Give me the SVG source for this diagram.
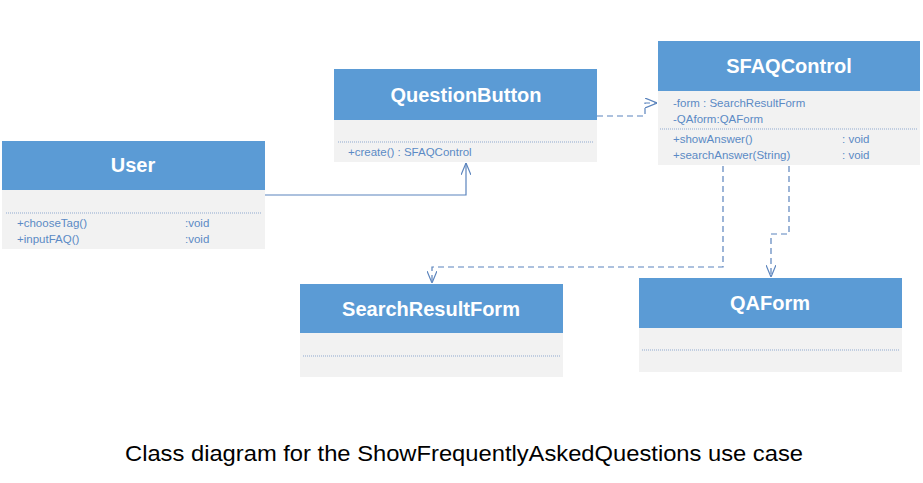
<svg xmlns="http://www.w3.org/2000/svg" width="923" height="483" viewBox="0 0 923 483">
<style>
.hdr{fill:#5B9BD5}
.body{fill:#F2F2F2}
.sep{stroke:#8FA9CF;stroke-width:1;stroke-dasharray:1 1;fill:none}
.title{font-family:"Liberation Sans",Arial,sans-serif;font-weight:bold;font-size:20px;fill:#FFFFFF;text-anchor:middle}
.mem{font-family:"Liberation Sans",Arial,sans-serif;font-size:11.5px;fill:#5B8AC5}
.conn{fill:none;stroke:#5B84BD;stroke-width:1.2}
.dash{stroke-dasharray:6 4}
.cap{font-family:"Liberation Sans",Arial,sans-serif;font-size:22px;fill:#000000}
</style>
<defs>
<marker id="open" viewBox="0 0 12 10" refX="12" refY="5" markerWidth="12" markerHeight="10" markerUnits="userSpaceOnUse" orient="auto">
<path d="M0,0 L12,5 L0,10" fill="none" stroke="#5B84BD" stroke-width="1.2"/>
</marker>
</defs>
<rect width="923" height="483" fill="#FFFFFF"/>
<g id="connectors">
<path class="conn" d="M265,195 H466 V163" marker-end="url(#open)"/>
<path class="conn dash" d="M597,116 H645 V103 H657" marker-end="url(#open)"/>
<path class="conn dash" d="M723,166 V267 H432 V283" marker-end="url(#open)"/>
<path class="conn dash" d="M789,166 V234 H771 V277" marker-end="url(#open)"/>
</g>
<g id="User">
<rect class="body" x="2" y="190" width="263" height="59"/>
<rect class="hdr" x="2" y="141" width="263" height="49"/>
<text class="title" x="133" y="172">User</text>
<line class="sep" x1="6" y1="213" x2="262" y2="213"/>
<text class="mem" x="17" y="227">+chooseTag()</text>
<text class="mem" x="185" y="227">:void</text>
<text class="mem" x="17" y="243">+inputFAQ()</text>
<text class="mem" x="185" y="243">:void</text>
</g>
<g id="QuestionButton">
<rect class="body" x="334" y="120" width="263" height="42"/>
<rect class="hdr" x="334" y="69" width="263" height="51"/>
<text class="title" x="466" y="102">QuestionButton</text>
<line class="sep" x1="338" y1="142" x2="594" y2="142"/>
<text class="mem" x="348" y="156">+create() : SFAQControl</text>
</g>
<g id="SFAQControl">
<rect class="body" x="658" y="91" width="262" height="74"/>
<rect class="hdr" x="658" y="41" width="262" height="50"/>
<text class="title" x="789" y="73">SFAQControl</text>
<text class="mem" x="673" y="107">-form : SearchResultForm</text>
<text class="mem" x="673" y="123">-QAform:QAForm</text>
<line class="sep" x1="660" y1="129" x2="918" y2="129"/>
<text class="mem" x="673" y="143">+showAnswer()</text>
<text class="mem" x="842" y="143">: void</text>
<text class="mem" x="673" y="159">+searchAnswer(String)</text>
<text class="mem" x="842" y="159">: void</text>
</g>
<g id="SearchResultForm">
<rect class="body" x="300" y="333" width="263" height="44"/>
<rect class="hdr" x="300" y="284" width="263" height="49"/>
<text class="title" x="431" y="316">SearchResultForm</text>
<line class="sep" x1="303" y1="356" x2="560" y2="356"/>
</g>
<g id="QAForm">
<rect class="body" x="639" y="328" width="263" height="44"/>
<rect class="hdr" x="639" y="278" width="263" height="50"/>
<text class="title" x="770" y="310">QAForm</text>
<line class="sep" x1="642" y1="350" x2="899" y2="350"/>
</g>
<text class="cap" x="125" y="461" textLength="678" lengthAdjust="spacingAndGlyphs">Class diagram for the ShowFrequentlyAskedQuestions use case</text>
</svg>
